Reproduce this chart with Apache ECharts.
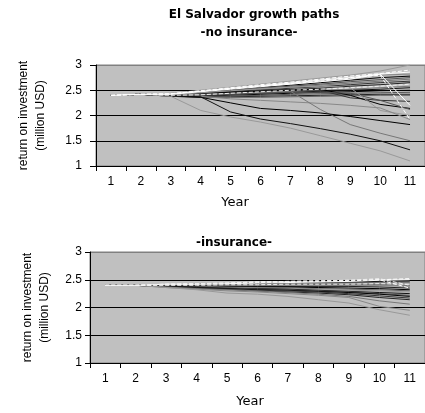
<!DOCTYPE html>
<html>
<head>
<meta charset="utf-8">
<script src="https://cdn.jsdelivr.net/npm/echarts@6/dist/echarts.min.js"></script>
<style>
html,body{margin:0;padding:0;background:#fff;}
#c{width:425px;height:413px;}
</style>
</head>
<body>
<div id="c"></div>
<script>
const years = ['1','2','3','4','5','6','7','8','9','10','11'];

// top panel: no insurance
const noInsurance = [
  [2.40,2.42,2.44,2.50,2.56,2.62,2.68,2.74,2.80,2.88,3.00],
  [2.40,2.42,2.43,2.49,2.55,2.61,2.66,2.72,2.78,2.83,2.90],
  [2.40,2.42,2.43,2.48,2.54,2.59,2.64,2.70,2.75,2.82,2.86],
  [2.40,2.42,2.42,2.47,2.52,2.57,2.62,2.68,2.73,2.80,2.82],
  [2.40,2.42,2.42,2.46,2.51,2.56,2.60,2.65,2.70,2.75,2.78],
  [2.40,2.42,2.41,2.45,2.50,2.54,2.58,2.62,2.67,2.71,2.75],
  [2.40,2.42,2.41,2.44,2.48,2.52,2.56,2.60,2.64,2.68,2.72],
  [2.40,2.42,2.40,2.43,2.47,2.50,2.54,2.57,2.61,2.65,2.68],
  [2.40,2.42,2.40,2.42,2.45,2.48,2.51,2.54,2.58,2.61,2.65],
  [2.40,2.42,2.40,2.41,2.44,2.47,2.50,2.52,2.55,2.58,2.62],
  [2.40,2.42,2.39,2.40,2.43,2.45,2.48,2.50,2.52,2.55,2.58],
  [2.40,2.42,2.39,2.39,2.42,2.44,2.46,2.48,2.50,2.52,2.55],
  [2.40,2.42,2.39,2.38,2.40,2.42,2.44,2.46,2.47,2.49,2.50],
  [2.40,2.42,2.38,2.37,2.39,2.40,2.42,2.43,2.44,2.45,2.46],
  [2.40,2.42,2.38,2.36,2.37,2.38,2.39,2.40,2.41,2.42,2.42],
  [2.40,2.42,2.38,2.36,2.36,2.36,2.37,2.38,2.39,2.40,2.40],
  [2.40,2.42,2.41,2.44,2.47,2.50,2.52,2.50,2.35,2.30,2.28],
  [2.40,2.42,2.40,2.43,2.46,2.48,2.50,2.52,2.40,2.22,2.14],
  [2.40,2.42,2.40,2.40,2.42,2.44,2.46,2.46,2.44,2.30,2.12],
  [2.40,2.42,2.41,2.45,2.49,2.53,2.56,2.58,2.55,2.10,2.00],
  [2.40,2.42,2.39,2.38,2.33,2.30,2.27,2.24,2.20,2.15,1.92],
  [2.40,2.42,2.40,2.42,2.44,2.46,2.48,2.12,1.82,1.65,1.50],
  [2.40,2.42,2.39,2.36,2.25,2.14,2.10,2.05,1.98,1.90,1.82],
  [2.40,2.42,2.39,2.37,2.07,1.93,1.84,1.74,1.63,1.50,1.32],
  [2.40,2.42,2.38,2.10,1.97,1.87,1.75,1.60,1.45,1.30,1.10],
  [2.40,2.42,2.43,2.48,2.53,2.58,2.63,2.68,2.74,2.80,1.92],
  [2.40,2.42,2.42,2.47,2.52,2.57,2.62,2.67,2.72,2.82,2.20]
];

// bottom panel: insurance
const insurance = [
  [2.40,2.40,2.42,2.43,2.44,2.46,2.47,2.48,2.49,2.50,2.52],
  [2.40,2.40,2.42,2.42,2.43,2.44,2.45,2.46,2.47,2.49,2.50],
  [2.40,2.40,2.41,2.42,2.43,2.44,2.45,2.46,2.46,2.47,2.48],
  [2.40,2.40,2.41,2.41,2.42,2.43,2.44,2.44,2.45,2.46,2.46],
  [2.40,2.40,2.41,2.41,2.41,2.42,2.43,2.43,2.44,2.44,2.44],
  [2.40,2.40,2.40,2.40,2.41,2.41,2.42,2.42,2.42,2.43,2.42],
  [2.40,2.40,2.40,2.40,2.40,2.40,2.41,2.41,2.41,2.41,2.40],
  [2.40,2.40,2.40,2.39,2.39,2.39,2.39,2.39,2.40,2.40,2.38],
  [2.40,2.40,2.39,2.39,2.38,2.38,2.38,2.38,2.38,2.37,2.35],
  [2.40,2.40,2.39,2.38,2.38,2.37,2.37,2.36,2.35,2.34,2.32],
  [2.40,2.40,2.39,2.38,2.37,2.36,2.35,2.34,2.33,2.32,2.30],
  [2.40,2.40,2.38,2.37,2.36,2.35,2.34,2.33,2.31,2.30,2.28],
  [2.40,2.40,2.38,2.37,2.35,2.34,2.33,2.31,2.29,2.27,2.25],
  [2.40,2.40,2.38,2.36,2.35,2.33,2.32,2.30,2.28,2.25,2.22],
  [2.40,2.40,2.38,2.36,2.34,2.32,2.31,2.29,2.27,2.24,2.20],
  [2.40,2.40,2.37,2.35,2.33,2.31,2.30,2.28,2.25,2.21,2.17],
  [2.40,2.40,2.37,2.35,2.33,2.30,2.28,2.26,2.23,2.18,2.14],
  [2.40,2.40,2.37,2.34,2.32,2.30,2.27,2.24,2.20,2.12,2.06],
  [2.40,2.40,2.36,2.33,2.30,2.28,2.25,2.22,2.18,2.02,1.95],
  [2.40,2.40,2.36,2.32,2.26,2.24,2.20,2.14,2.08,1.96,1.86],
  [2.40,2.40,2.41,2.42,2.43,2.45,2.46,2.47,2.48,2.50,2.35],
  [2.40,2.40,2.42,2.43,2.44,2.46,2.47,2.48,2.49,2.52,2.40]
];

const yMin = 1, yMax = 3, yStep = 0.5;

// line styles cycled across series
const palette = [
  {c:'#ffffff', t:'dashed'}, {c:'#000000', t:'solid'}, {c:'#555555', t:'solid'},
  {c:'#888888', t:'solid'}, {c:'#222222', t:'solid'}, {c:'#777777', t:'solid'},
  {c:'#ffffff', t:'solid'}, {c:'#333333', t:'solid'}, {c:'#999999', t:'solid'},
  {c:'#111111', t:'solid'}, {c:'#666666', t:'solid'}, {c:'#eeeeee', t:'dashed'}
];
const topStyleIdx = [8,0,6,3,1,2,5,7,4,11,5,9,1,2,4,10,7,1,2,8,3,5,1,9,8,0,6];
const botStyleIdx = [0,6,1,7,5,11,2,3,4,1,10,8,9,2,1,7,4,5,3,8,0,11];

const FONT = 'Liberation Sans';
function axisX(gi){
  return {
    type:'category', gridIndex:gi, data:years, boundaryGap:true,
    axisLine:{show:true, lineStyle:{color:'#000', width:1}},
    axisTick:{show:true, inside:false, length:5, alignWithLabel:false, lineStyle:{color:'#000'}},
    axisLabel:{color:'#000', fontFamily:FONT, fontSize:12, margin:10},
    splitLine:{show:false}
  };
}
function axisY(gi, gap, margin, tick){
  return {
    type:'value', gridIndex:gi, min:yMin, max:yMax, interval:yStep,
    name:'return on investment\n(million USD)', nameLocation:'middle', nameRotate:90, nameGap:gap,
    nameTextStyle:{color:'#000', fontFamily:FONT, fontSize:12, lineHeight:17},
    axisLine:{show:true, lineStyle:{color:'#000', width:1}},
    axisTick:{show:true, inside:false, length:tick, lineStyle:{color:'#000'}},
    axisLabel:{color:'#000', fontFamily:FONT, fontSize:12, margin:margin},
    splitLine:{show:true, lineStyle:{color:['#000','#000','#000','#000','#808080'], width:1}}
  };
}
function mkSeries(list, idxs, gi){
  return list.map((d,i)=>{
    const p = palette[idxs[i % idxs.length]];
    return {
      type:'line', xAxisIndex:gi, yAxisIndex:gi, data:d, showSymbol:false, symbol:'none',
      lineStyle:{color:p.c, type:p.t, width:1}, z: p.c==='#ffffff'||p.c==='#eeeeee' ? 3 : 2,
      silent:true, animation:false
    };
  });
}
const TF = 'bold 12px "DejaVu Sans"';
const YF = '13px "DejaVu Sans"';
const chart = echarts.init(document.getElementById('c'), null, {renderer:'canvas'});
chart.setOption({
  animation:false,
  backgroundColor:'#fff',
  grid:[
    {left:96, top:65, width:332, height:101, show:true, backgroundColor:'#c0c0c0', borderColor:'#808080', borderWidth:1},
    {left:90, top:252, width:338, height:111, show:true, backgroundColor:'#c0c0c0', borderColor:'#808080', borderWidth:1}
  ],
  xAxis:[axisX(0), axisX(1)],
  yAxis:[axisY(0, 47, 14, 6), axisY(1, 37, 8, 5)],
  graphic:[
    {type:'text', x:254, y:15, style:{text:'El Salvador growth paths', fill:'#000', font:TF, textAlign:'center', textVerticalAlign:'middle'}},
    {type:'text', x:249, y:33, style:{text:'-no insurance-', fill:'#000', font:TF, textAlign:'center', textVerticalAlign:'middle'}},
    {type:'text', x:235, y:203, style:{text:'Year', fill:'#000', font:YF, textAlign:'center', textVerticalAlign:'middle'}},
    {type:'text', x:234, y:243, style:{text:'-insurance-', fill:'#000', font:TF, textAlign:'center', textVerticalAlign:'middle'}},
    {type:'text', x:250, y:402, style:{text:'Year', fill:'#000', font:YF, textAlign:'center', textVerticalAlign:'middle'}}
  ],
  series:[].concat(mkSeries(noInsurance, topStyleIdx, 0), mkSeries(insurance, botStyleIdx, 1))
});
</script>
</body>
</html>
